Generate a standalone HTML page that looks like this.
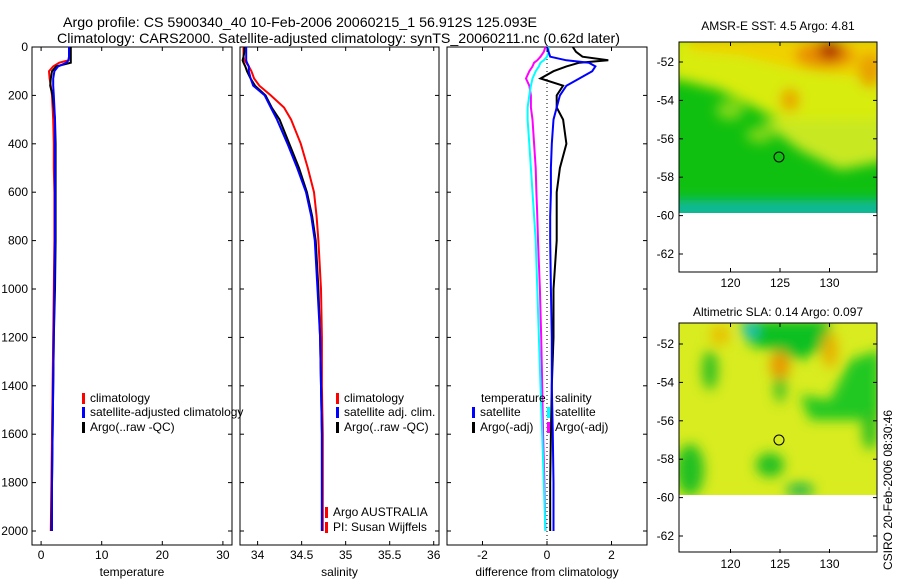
<!DOCTYPE html>
<html><head><meta charset="utf-8"><style>
body{margin:0;background:#fff;}
svg{display:block;font-family:"Liberation Sans",sans-serif;}
text{font-size:12px;fill:#000;}
</style></head><body>
<svg id="fig" width="900" height="580" xmlns="http://www.w3.org/2000/svg">
<defs><filter id="bl" x="-20%" y="-20%" width="140%" height="140%"><feGaussianBlur stdDeviation="6"/></filter>
<clipPath id="c1"><rect x="679" y="42" width="198" height="171"/></clipPath>
<clipPath id="c2"><rect x="679" y="323" width="198" height="172"/></clipPath></defs>
<text x="63" y="27" textLength="474" lengthAdjust="spacingAndGlyphs" style="font-size:14px">Argo profile: CS 5900340_40 10-Feb-2006 20060215_1 56.912S 125.093E</text>
<text x="57" y="43" textLength="563" lengthAdjust="spacingAndGlyphs" style="font-size:14px">Climatology: CARS2000. Satellite-adjusted climatology: synTS_20060211.nc (0.62d later)</text>
<g id="maps">
<text x="778" y="30" text-anchor="middle">AMSR-E SST: 4.5 Argo: 4.81</text>
<g clip-path="url(#c1)">
<rect x="679" y="42" width="198" height="171" fill="#10c010"/>
<g filter="url(#bl)">
<polygon points="670,35 890,35 890,150 840,140 800,130 760,110 720,90 680,80 670,80" fill="#d8ec10"/>
<polygon points="760,120 800,150 840,170 890,160 890,120" fill="#c8e820"/>
<polygon points="690,35 890,35 890,80 800,70 740,55 690,50" fill="#f0d000"/>
<ellipse cx="825" cy="55" rx="30" ry="14" fill="#e89000"/>
<ellipse cx="830" cy="50" rx="12" ry="10" fill="#b03000"/>
<ellipse cx="870" cy="70" rx="12" ry="18" fill="#e8a000"/>
<ellipse cx="790" cy="100" rx="10" ry="12" fill="#e8a800"/>
<ellipse cx="730" cy="110" rx="14" ry="10" fill="#80d818"/>
<ellipse cx="760" cy="135" rx="14" ry="8" fill="#80d818"/>
<rect x="670" y="200" width="220" height="20" fill="#10b8a0"/>
</g></g>
<rect x="679" y="42" width="198" height="230" fill="none" stroke="#000"/>
<circle cx="779" cy="157" r="5" fill="none" stroke="#000"/>
<text x="778" y="316" text-anchor="middle">Altimetric SLA: 0.14 Argo: 0.097</text>
<g clip-path="url(#c2)">
<rect x="679" y="323" width="198" height="172" fill="#d8ec20"/>
<g filter="url(#bl)">
<polygon points="740,320 830,320 830,345 800,360 770,350 750,345" fill="#10c020"/>
<ellipse cx="750" cy="330" rx="8" ry="8" fill="#20c0c0"/>
<polygon points="800,395 830,400 850,360 880,350 880,420 840,420 810,420" fill="#20c820"/>
<ellipse cx="690" cy="470" rx="14" ry="26" fill="#20c020"/>
<ellipse cx="770" cy="465" rx="14" ry="12" fill="#20c020"/>
<ellipse cx="710" cy="370" rx="8" ry="20" fill="#30c020"/>
<ellipse cx="780" cy="385" rx="6" ry="18" fill="#40c020"/>
<ellipse cx="780" cy="365" rx="10" ry="14" fill="#e89800"/>
<ellipse cx="830" cy="350" rx="8" ry="18" fill="#e8b000"/>
<ellipse cx="720" cy="335" rx="10" ry="10" fill="#e8c000"/>
<ellipse cx="870" cy="430" rx="8" ry="20" fill="#30c020"/>
<ellipse cx="800" cy="490" rx="14" ry="6" fill="#10b050"/>
</g></g>
<rect x="679" y="323" width="198" height="229" fill="none" stroke="#000"/>
<circle cx="779" cy="440" r="5" fill="none" stroke="#000"/>
<text transform="translate(892,570) rotate(-90)" style="font-size:12px">CSIRO 20-Feb-2006 08:30:46</text>
</g>
</svg>
<script>
var depths=[0,20,40,55,65,80,100,130,160,200,250,300,400,500,600,700,800,1000,1200,1400,1600,1800,2000];
var tempClim=[4.8,4.8,4.7,4.5,3.0,2.0,1.3,1.4,1.6,1.8,1.9,2.0,2.1,2.1,2.2,2.2,2.2,2.1,2.0,1.9,1.8,1.7,1.6];
var tempSat=[4.6,4.6,4.6,4.5,4.2,2.8,2.2,2.0,2.0,2.1,2.2,2.3,2.3,2.3,2.3,2.3,2.3,2.2,2.1,2.0,1.9,1.8,1.8];
var tempArgo=[4.9,4.9,4.9,4.9,4.9,2.5,1.8,1.6,1.5,1.9,2.1,2.3,2.4,2.4,2.4,2.4,2.4,2.3,2.1,2.0,1.9,1.8,1.7];
var salClim=[33.84,33.84,33.84,33.85,33.87,33.9,33.93,33.96,34.02,34.15,34.3,34.38,34.49,34.57,34.64,34.67,34.69,34.72,34.73,34.73,34.74,34.74,34.74];
var salSat=[33.87,33.87,33.87,33.87,33.88,33.9,33.9,33.92,33.95,34.08,34.15,34.22,34.34,34.45,34.55,34.61,34.65,34.68,34.71,34.72,34.73,34.73,34.73];
var salArgo=[33.85,33.85,33.84,33.83,33.84,33.86,33.88,33.92,33.97,34.09,34.16,34.25,34.36,34.47,34.56,34.62,34.66,34.69,34.71,34.72,34.73,34.73,34.73];
var dTempSat=[0.0,0.05,0.1,0.6,1.3,1.5,1.4,1.0,0.6,0.4,0.3,0.2,0.15,0.12,0.12,0.1,0.1,0.12,0.15,0.15,0.18,0.2,0.2];
var dTempArgo=[0.8,0.9,1.1,1.9,1.0,0.6,0.2,-0.2,0.5,0.3,0.3,0.5,0.6,0.4,0.3,0.3,0.3,0.2,0.2,0.15,0.12,0.1,0.1];
var dSalSat=[0.05,0.05,0.0,-0.1,-0.2,-0.25,-0.35,-0.45,-0.5,-0.55,-0.6,-0.6,-0.55,-0.5,-0.45,-0.4,-0.35,-0.3,-0.25,-0.2,-0.15,-0.1,-0.05];
var dSalArgo=[-0.05,-0.1,-0.2,-0.3,-0.4,-0.45,-0.55,-0.65,-0.55,-0.5,-0.5,-0.45,-0.4,-0.35,-0.33,-0.3,-0.28,-0.22,-0.18,-0.15,-0.12,-0.08,-0.05];
var depthTicks=[0,200,400,600,800,1000,1200,1400,1600,1800,2000];
var tempTicks=[0,10,20,30];
var salTicks=[34,34.5,35,35.5,36];
var diffTicks=[-2,0,2];
var mapLatTicks=[-52,-54,-56,-58,-60,-62];
var mapLonTicks=[120,125,130];

var NS='http://www.w3.org/2000/svg';
var svg=document.getElementById('fig');
function mk(t,a,p){var e=document.createElementNS(NS,t);for(var k in a)e.setAttribute(k,a[k]);(p||svg).appendChild(e);return e;}
var TOP=47,BOT=545;
function yD(d){return TOP+d*0.242;}
var panels=[
 {name:'temperature',x0:32,x1:232,v0:-1.5,v1:31.5,ticks:tempTicks,label:'temperature'},
 {name:'salinity',x0:240,x1:439,v0:33.8,v1:36.06,ticks:salTicks,label:'salinity'},
 {name:'difference',x0:447,x1:647,v0:-3.1,v1:3.1,ticks:diffTicks,label:'difference from climatology'}];
panels.forEach(function(p){p.sx=function(v){return p.x0+(v-p.v0)/(p.v1-p.v0)*(p.x1-p.x0);};});
panels.forEach(function(p,i){
 var g=mk('g',{});
 
 
 var r=mk('rect',{x:p.x0,y:TOP,width:p.x1-p.x0,height:BOT-TOP,fill:'none',stroke:'#000'},g);
 
 
 depthTicks.forEach(function(d){var y=yD(d);
  mk('line',{x1:p.x0,x2:p.x0+4,y1:y,y2:y,stroke:'#000'},g);
  mk('line',{x1:p.x1-4,x2:p.x1,y1:y,y2:y,stroke:'#000'},g);
  if(i==0){var t=mk('text',{x:p.x0-4,y:y+4,'text-anchor':'end'},g);t.textContent=d;
   
   }
 });
 p.ticks.forEach(function(v){var x=p.sx(v);
  mk('line',{x1:x,x2:x,y1:BOT,y2:BOT-4,stroke:'#000'},g);
  mk('line',{x1:x,x2:x,y1:TOP,y2:TOP+4,stroke:'#000'},g);
  var t=mk('text',{x:x,y:BOT+14,'text-anchor':'middle'},g);t.textContent=v;
  
  
 });
 var xl=mk('text',{x:(p.x0+p.x1)/2,y:BOT+31,'text-anchor':'middle'},g);xl.textContent=p.label;
 
 
});
function line(p,vals,col,name){
 var pts=vals.map(function(v,i){return p.sx(v).toFixed(1)+','+yD(depths[i]).toFixed(1);}).join(' ');
 var e=mk('polyline',{points:pts,fill:'none',stroke:col,'stroke-width':2});
 
 
}
var P=panels;
var z=mk('line',{x1:P[2].sx(0),x2:P[2].sx(0),y1:TOP,y2:BOT,stroke:'#000','stroke-dasharray':'1,3'});


line(P[0],tempClim,'#f00','temp-climatology-line');
line(P[0],tempArgo,'#000','temp-argo-line');
line(P[0],tempSat,'#00f','temp-satellite-line');
line(P[1],salClim,'#f00','sal-climatology-line');
line(P[1],salArgo,'#000','sal-argo-line');
line(P[1],salSat,'#00f','sal-satellite-line');
line(P[2],dSalArgo,'#f0f','diff-sal-argo-line');
line(P[2],dSalSat,'#0ff','diff-sal-satellite-line');
line(P[2],dTempArgo,'#000','diff-temp-argo-line');
line(P[2],dTempSat,'#00f','diff-temp-satellite-line');
function leg(x,y,col,txt,name){
 if(col){var m=mk('rect',{x:x,y:y-9,width:3,height:11,fill:col});
  
  }
 var t=mk('text',{x:x+(col?8:0),y:y});t.textContent=txt;
 
 
}
leg(82,402,'#f00','climatology','legend-temp-climatology');
leg(82,416,'#00f','satellite-adjusted climatology','legend-temp-satellite');
leg(82,431,'#000','Argo(..raw -QC)','legend-temp-argo');
leg(336,402,'#f00','climatology','legend-sal-climatology');
leg(336,416,'#00f','satellite adj. clim.','legend-sal-satellite');
leg(336,431,'#000','Argo(..raw -QC)','legend-sal-argo');
leg(325,516,'#f00','Argo AUSTRALIA','legend-argo-australia');
leg(325,531,'#f00','PI: Susan Wijffels','legend-pi-name');
leg(481,402,null,'temperature','legend-diff-temperature-heading');
leg(472,416,'#00f','satellite','legend-diff-temp-satellite');
leg(472,431,'#000','Argo(-adj)','legend-diff-temp-argo');
leg(555,402,null,'salinity','legend-diff-salinity-heading');
leg(547,416,'#0ff','satellite','legend-diff-sal-satellite');
leg(547,431,'#f0f','Argo(-adj)','legend-diff-sal-argo');
[[42,62,'sst'],[323,344,'sla']].forEach(function(m){
 var top=m[0],y52=m[1],bot=top+230;
 mapLatTicks.forEach(function(l){var y=y52+(-52-l)*19.2;
  mk('line',{x1:679,x2:683,y1:y,y2:y,stroke:'#000'});
  mk('line',{x1:873,x2:877,y1:y,y2:y,stroke:'#000'});
  var t=mk('text',{x:674,y:y+4,'text-anchor':'end'});t.textContent=l;
  
  });
 mapLonTicks.forEach(function(l){var x=780+(l-125)*9.9;
  mk('line',{x1:x,x2:x,y1:top,y2:top+4,stroke:'#000'});
  mk('line',{x1:x,x2:x,y1:bot-4,y2:bot,stroke:'#000'});
  var t=mk('text',{x:x,y:bot+15,'text-anchor':'middle'});t.textContent=l;
  
  });
});
</script>
</body></html>
